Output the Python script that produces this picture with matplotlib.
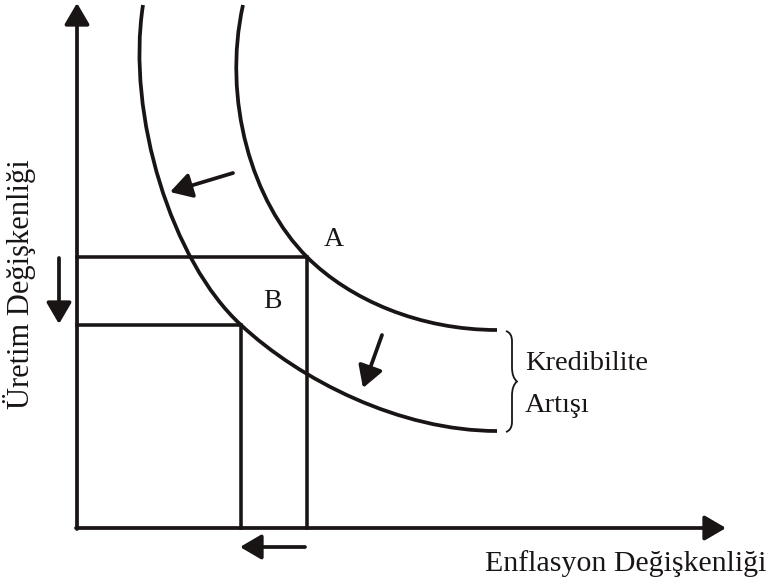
import numpy as np
import matplotlib
matplotlib.use("Agg")
import matplotlib.pyplot as plt
from matplotlib.path import Path
from matplotlib.patches import PathPatch

plt.rcParams['font.family'] = ['Liberation Serif', 'DejaVu Serif']

# diagram drawn in pixel units of the 768x588 canvas (y grows downwards)
origin = (77, 528)
y_top = 3
x_right = 726

point_a = (307, 257)
point_b = (241, 325)

# cubic bezier control points: top end -> point -> right end
curve_a = [(243, 5), (222, 100), (252, 202), point_a,
           (350, 300), (420, 330), (497, 330)]
curve_b = [(143, 5), (126, 115), (172, 262), point_b,
           (300, 380), (400, 431), (497, 431)]

# shift arrows: (start, tip)
arrows = [
    ((233, 173), (170, 192)),
    ((382, 335), (363, 388)),
    ((59, 258), (59, 324)),
    ((305, 547), (240, 547)),
]

labels = ["A", "B"]
label_pos = [(334, 240), (272, 301)]
brace_text = ["Kredibilite", "Artışı"]
xlabel = "Enflasyon Değişkenliği"
ylabel = "Üretim Değişkenliği"

fig = plt.figure(figsize=(7.68, 5.88), dpi=100)
ax = fig.add_axes([0, 0, 1, 1])
ax.set_xlim(0, 768)
ax.set_ylim(588, 0)
ax.axis('off')

lw = 2.7
k = '#1a1515'

# axes with arrow heads
head = dict(arrowstyle='-|>,head_length=0.65,head_width=0.38', color=k, lw=lw,
            mutation_scale=20, shrinkA=0, shrinkB=0)
ax.annotate('', xy=(origin[0], y_top), xytext=(origin[0], origin[1] + 1), arrowprops=head)
ax.annotate('', xy=(x_right, origin[1]), xytext=(origin[0] - 1, origin[1]), arrowprops=head)

for pts in [curve_a, curve_b]:
    codes = [Path.MOVETO] + [Path.CURVE4] * (len(pts) - 1)
    ax.add_patch(PathPatch(Path(pts, codes), fill=False, lw=lw, color=k,
                           capstyle='butt'))

# rectangles under A and B
for px, py in [point_a, point_b]:
    ax.plot([origin[0], px, px], [py, py, origin[1]], color=k, lw=lw * 0.95,
            solid_joinstyle='miter')

for (sx, sy), (tx, ty) in arrows:
    ax.annotate('', xy=(tx, ty), xytext=(sx, sy), arrowprops=head)

for s, (x, y) in zip(labels, label_pos):
    ax.text(x, y, s, fontsize=20, ha='center', va='center', color=k)

# curly brace
bx, by0, by1 = 506, 331, 432
bm = (by0 + by1) / 2
verts = [(bx, by0), (bx + 6, by0 + 2), (bx + 6, by0 + 10), (bx + 6, by0 + 20),
         (bx + 6, bm - 14), (bx + 6, bm - 4), (bx + 11, bm),
         (bx + 6, bm + 4), (bx + 6, bm + 14),
         (bx + 6, by1 - 20), (bx + 6, by1 - 10), (bx + 6, by1 - 2), (bx, by1)]
codes = [Path.MOVETO, Path.CURVE3, Path.CURVE3, Path.LINETO,
         Path.LINETO, Path.CURVE3, Path.CURVE3,
         Path.CURVE3, Path.CURVE3,
         Path.LINETO, Path.LINETO, Path.CURVE3, Path.CURVE3]
ax.add_patch(PathPatch(Path(verts, codes), fill=False, lw=1.3, color=k))

ax.text(525, 364, brace_text[0], fontsize=20.5, ha='left', va='center', color=k)
ax.text(525, 405, brace_text[1], fontsize=20.5, ha='left', va='center', color=k)
ax.text(766, 564, xlabel, fontsize=21.5, ha='right', va='center', color=k)
ax.text(20, 284, ylabel, fontsize=22, ha='center', va='center', rotation=90, color=k)

fig.savefig('out.png', dpi=100)
